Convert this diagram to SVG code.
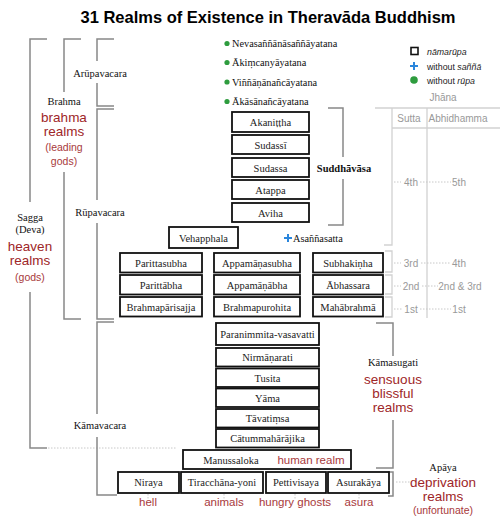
<svg xmlns="http://www.w3.org/2000/svg" width="500" height="522" viewBox="0 0 500 522">
<style>
.box{fill:#fff;stroke:#111;stroke-width:1.8}
.bt{font-family:"Liberation Serif",serif;font-size:10.5px;fill:#222;text-anchor:middle}
.st{font-family:"Liberation Serif",serif;font-size:10.3px;fill:#111}
.lb{font-family:"Liberation Serif",serif;font-size:10.5px;fill:#111;text-anchor:middle}
.red{font-family:"Liberation Sans",Arial,sans-serif;font-size:13.5px;fill:#9e2628;text-anchor:middle}
.rs{font-family:"Liberation Sans",Arial,sans-serif;font-size:10.5px;fill:#a8393b;text-anchor:middle}
.rsm{font-family:"Liberation Sans",Arial,sans-serif;font-size:11.5px;fill:#a8393b;text-anchor:middle}
.br{fill:none;stroke:#888;stroke-width:1.5}
.tb{fill:none;stroke:#d2d2d2;stroke-width:1.3}
.dot{fill:none;stroke:#c8c8c8;stroke-width:1;stroke-dasharray:1.5 1.5}
.tt{font-family:"Liberation Sans",Arial,sans-serif;font-size:10px;fill:#999;text-anchor:middle}
.lg{font-family:"Liberation Sans",Arial,sans-serif;font-size:8.8px;fill:#222}
.gd{fill:#2e9c3e}
.pl{stroke:#2a86dc;stroke-width:2}
</style>
<rect width="500" height="522" fill="#fff"/>
<text x="268" y="23" font-family="Liberation Sans,Arial,sans-serif" font-size="16.5" font-weight="bold" text-anchor="middle" fill="#000">31 Realms of Existence in Theravāda Buddhism</text>

<g id="connectors">
<path class="br" d="M47,39 H30 V202 M30,292 V448 H47"/>
<path class="dot" d="M48,448 H176"/>
<path class="br" d="M81,39 H64 V92 M64,172 V319 H81"/>
<path class="br" d="M114,39 H97 V61 M97,83 V106 H114"/>
<path class="br" d="M114,109 H97 V200 M97,223 V319 H114"/>
<path class="br" d="M114,322 H97 V414 M97,437 V495 H117"/>
<path class="br" d="M328,108 H343 V157 M343,179 V225 H328"/>
<path class="br" d="M376,323 H393 V356 M393,420 V468 H376"/>
<path class="br" d="M388,472 H393 V496 H388"/>
<path class="dot" d="M396,482 H411"/>
<path class="dot" d="M148,494 V499 M224,494 V499 M295,494 V499 M359,494 V499"/>
</g>

<g id="jhana-table">
<text class="tt" x="443" y="101">Jhāna</text>
<path class="tb" d="M375,108 H500 M392,128 H500 M392,108 V245 H384 M427,108 V318"/>
<path class="tb" d="M385,251 H392 V272 H385 M385,275 H392 V294 H385 M385,297 H392 V317 H385"/>
<text class="tt" x="409" y="122">Sutta</text>
<text class="tt" x="458" y="122">Abhidhamma</text>
<path class="dot" d="M394,182 H401 M420,182 H451 M394,263 H401 M421,263 H450 M394,286 H401 M422,286 H438 M394,309 H402 M420,309 H451"/>
<text class="tt" x="411" y="186">4th</text>
<text class="tt" x="459" y="186">5th</text>
<text class="tt" x="411" y="267">3rd</text>
<text class="tt" x="459" y="267">4th</text>
<text class="tt" x="411" y="290">2nd</text>
<text class="tt" x="460" y="290">2nd &amp; 3rd</text>
<text class="tt" x="411" y="313">1st</text>
<text class="tt" x="459" y="313">1st</text>
</g>

<g id="legend">
<rect x="411" y="47.5" width="7" height="7" fill="#fff" stroke="#111" stroke-width="1.6"/>
<text class="lg" x="427" y="54.5" font-style="italic">nāmarūpa</text>
<path class="pl" d="M410,66 H418 M414,62 V70"/>
<text class="lg" x="427" y="69.5">without <tspan font-style="italic">saññā</tspan></text>
<circle class="gd" cx="414" cy="80" r="3.8"/>
<text class="lg" x="427" y="83.5">without <tspan font-style="italic">rūpa</tspan></text>
</g>

<g id="labels-left">
<text class="lb" x="64" y="105">Brahma</text>
<text class="red" x="64" y="122">brahma</text>
<text class="red" x="64" y="136">realms</text>
<text class="rs" x="64" y="151">(leading</text>
<text class="rs" x="64" y="165">gods)</text>
<text class="lb" x="30" y="221">Sagga</text>
<text class="lb" x="30" y="233">(Deva)</text>
<text class="red" x="30" y="251">heaven</text>
<text class="red" x="30" y="265">realms</text>
<text class="rs" x="30" y="281">(gods)</text>
<text class="lb" x="100" y="77">Arūpavacara</text>
<text class="lb" x="100" y="216">Rūpavacara</text>
<text class="lb" x="100" y="429">Kāmavacara</text>
</g>

<g id="arupa">
<circle class="gd" cx="227" cy="43.5" r="2.6"/><text class="st" x="232" y="47">Nevasaññānāsaññāyatana</text>
<circle class="gd" cx="227" cy="62.5" r="2.6"/><text class="st" x="232" y="66">Ākiṃcanyāyatana</text>
<circle class="gd" cx="227" cy="82" r="2.6"/><text class="st" x="232" y="85.5">Viññāṇānañcāyatana</text>
<circle class="gd" cx="227" cy="101.5" r="2.6"/><text class="st" x="232" y="105">Ākāsānañcāyatana</text>
</g>

<g id="suddhavasa">
<rect class="box" x="232" y="112" width="77" height="20"/><text class="bt" x="270.5" y="126">Akaniṭṭha</text>
<rect class="box" x="232" y="135" width="77" height="19"/><text class="bt" x="270.5" y="148.5">Sudassī</text>
<rect class="box" x="232" y="158" width="77" height="19"/><text class="bt" x="270.5" y="171.5">Sudassa</text>
<rect class="box" x="232" y="180" width="77" height="19"/><text class="bt" x="270.5" y="193.5">Atappa</text>
<rect class="box" x="232" y="203" width="77" height="19"/><text class="bt" x="270.5" y="216.5">Aviha</text>
<text class="lb" x="344" y="172" font-weight="bold">Suddhāvāsa</text>
</g>

<g id="fourth">
<rect class="box" x="169" y="227" width="69" height="21"/><text class="bt" x="203.5" y="241.5">Vehapphala</text>
<path class="pl" d="M284,238 H292 M288,234 V242"/>
<text class="st" x="293" y="242">Asaññasatta</text>
</g>

<g id="rupa-rows">
<rect class="box" x="120" y="253" width="82" height="19.5"/><text class="bt" x="161" y="266.5">Parittasubha</text>
<rect class="box" x="214" y="253" width="86" height="19.5"/><text class="bt" x="257" y="266.5">Appamāṇasubha</text>
<rect class="box" x="313" y="253" width="70" height="19.5"/><text class="bt" x="348" y="266.5">Subhakiṇha</text>
<rect class="box" x="120" y="275" width="82" height="19.5"/><text class="bt" x="161" y="288.5">Parittābha</text>
<rect class="box" x="214" y="275" width="86" height="19.5"/><text class="bt" x="257" y="288.5">Appamāṇābha</text>
<rect class="box" x="313" y="275" width="70" height="19.5"/><text class="bt" x="348" y="288.5">Ābhassara</text>
<rect class="box" x="120" y="297" width="82" height="19.5"/><text class="bt" x="161" y="310.5">Brahmapārisajja</text>
<rect class="box" x="214" y="297" width="86" height="19.5"/><text class="bt" x="257" y="310.5">Brahmapurohita</text>
<rect class="box" x="313" y="297" width="70" height="19.5"/><text class="bt" x="348" y="310.5">Mahābrahmā</text>
</g>

<g id="kama">
<rect class="box" x="216" y="323" width="103" height="22"/><text class="bt" x="267.5" y="338">Paranimmita-vasavatti</text>
<rect class="box" x="216" y="348" width="103" height="18.5"/><text class="bt" x="267.5" y="361">Nirmāṇarati</text>
<rect class="box" x="216" y="368.5" width="103" height="18.5"/><text class="bt" x="267.5" y="381.5">Tusita</text>
<rect class="box" x="216" y="388.5" width="103" height="18.5"/><text class="bt" x="267.5" y="401.5">Yāma</text>
<rect class="box" x="216" y="409" width="103" height="18.5"/><text class="bt" x="267.5" y="422">Tāvatiṃsa</text>
<rect class="box" x="216" y="429" width="103" height="18.5"/><text class="bt" x="267.5" y="442">Cātummahārājika</text>
<rect class="box" x="183" y="450" width="168" height="19"/><text class="bt" x="231" y="463.5">Manussaloka</text>
<text class="rsm" x="311" y="464">human realm</text>
<text class="lb" x="393" y="366">Kāmasugati</text>
<text class="red" x="393" y="384">sensuous</text>
<text class="red" x="393" y="398">blissful</text>
<text class="red" x="393" y="412">realms</text>
</g>

<g id="apaya">
<rect class="box" x="118" y="472" width="61" height="21"/><text class="bt" x="148.5" y="486">Niraya</text>
<rect class="box" x="181" y="472" width="82" height="21"/><text class="bt" x="222" y="486">Tiracchāna-yoni</text>
<rect class="box" x="266" y="472" width="60" height="21"/><text class="bt" x="296" y="486">Pettivisaya</text>
<rect class="box" x="328" y="472" width="61" height="21"/><text class="bt" x="358.5" y="486">Asurakāya</text>
<text class="rsm" x="148" y="506">hell</text>
<text class="rsm" x="224" y="506">animals</text>
<text class="rsm" x="295" y="506">hungry ghosts</text>
<text class="rsm" x="359" y="506">asura</text>
<text class="lb" x="443" y="471">Apāya</text>
<text class="red" x="443" y="487">deprivation</text>
<text class="red" x="443" y="501">realms</text>
<text class="rs" x="443" y="514">(unfortunate)</text>
</g>
</svg>
